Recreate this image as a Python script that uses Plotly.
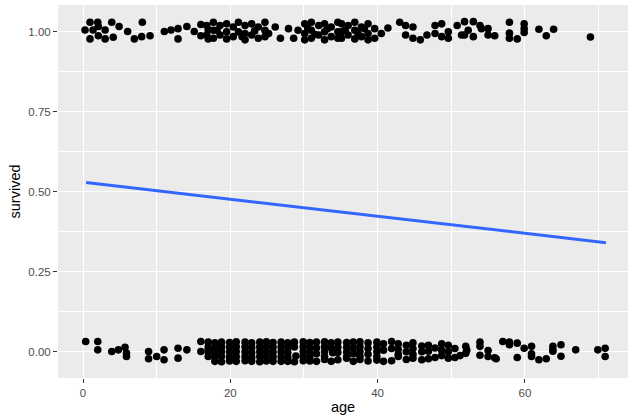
import plotly.graph_objects as go

# Jittered passenger points: age (years) and survived (0/1 with vertical jitter)
survivor_age = [
    0.27, 0.95, 0.95, 1.36, 2.0, 2.08, 2.08, 3.0, 3.0, 3.9, 4.1, 4.9, 6.06, 6.97, 7.96, 8.05, 9.1,
    11.04, 11.95, 12.9, 12.9, 14.1, 15.1, 16.0, 16.0, 17.0, 17.0,
    16.8, 16.8, 17.7, 17.7, 17.7, 18.6, 18.6, 19.5, 19.5, 19.5, 20.4, 20.4, 21.1, 21.1,
    22.0, 22.0, 22.0, 22.9, 22.9, 23.8, 23.8, 24.7, 24.7, 24.7, 26.1, 26.8, 27.9, 28.6, 29.2,
    30.1, 30.1, 30.1, 31.0, 31.0, 31.0, 32.0, 32.0, 32.8, 32.8, 32.8, 33.7, 33.7, 34.6, 34.6, 34.6,
    35.1, 35.1, 35.1, 36.0, 36.0, 36.9, 36.9, 36.9, 37.8, 37.8, 38.7, 38.7, 38.7, 39.6, 39.6,
    40.5, 41.4, 43.0, 43.8, 43.8, 44.8, 44.8, 45.8, 46.7, 47.8, 47.8, 48.7, 48.7, 49.6, 49.6,
    50.8, 51.4, 52.3,
    51.8, 51.8, 53.0, 53.0, 53.9, 54.1, 55.0, 55.0, 55.9, 57.9, 57.9, 57.9, 58.96,
    59.9, 59.9, 59.9, 61.9, 62.9, 63.9, 68.9,
    18.2, 21.6, 23.3, 25.2, 30.5, 31.5, 33.2, 35.6, 37.3, 38.2,
]
survivor_y = [
    1.006, 1.030, 0.978, 1.006, 1.030, 1.017, 0.988, 1.006, 0.978, 1.030, 0.983, 1.017, 1.001, 0.978, 0.985, 1.030, 0.988,
    1.001, 1.006, 1.010, 0.978, 1.017, 1.001, 1.023, 0.988, 1.006, 0.978,
    1.020, 0.990, 1.030, 1.005, 0.980, 1.020, 0.990, 1.025, 1.000, 0.978, 1.015, 0.985, 1.030, 1.000,
    1.020, 0.995, 0.975, 1.025, 0.990, 1.015, 0.980, 1.030, 1.005, 0.985, 1.015, 0.980, 1.010, 0.980, 1.005,
    1.025, 0.995, 0.975, 1.030, 1.005, 0.980, 1.020, 0.990, 1.025, 1.000, 0.975, 1.015, 0.985, 1.030, 1.000, 0.980,
    1.025, 1.000, 0.980, 1.020, 0.990, 1.030, 1.005, 0.978, 1.015, 0.985, 1.025, 0.995, 0.975, 1.010, 0.980,
    0.995, 1.012, 1.030, 1.020, 0.990, 1.015, 0.980, 0.975, 0.990, 1.020, 0.995, 1.025, 0.985, 1.000, 0.980,
    1.020, 0.990, 1.005,
    1.032, 0.990, 1.032, 0.985, 1.020, 1.010, 1.010, 0.990, 0.988, 1.030, 0.996, 0.980, 0.978,
    1.025, 1.010, 0.998, 1.008, 0.988, 1.008, 0.984,
    1.005, 0.985, 1.003, 0.995, 1.012, 0.992, 1.010, 1.005, 0.998, 1.010,
]

victim_age = [
    0.36, 2.0, 2.0, 3.9, 4.8, 5.7, 5.9, 5.9, 8.9, 8.9, 10.0, 11.0, 11.0, 12.9, 12.9, 14.1, 16.0, 16.0, 17.0,
    17.0, 17.0, 17.0, 17.0, 17.9, 17.9, 17.9, 17.9, 17.9, 18.8, 18.8, 18.8, 18.8, 18.8,
    19.9, 19.9, 19.9, 19.9, 19.9, 20.8, 20.8, 20.8, 20.8, 20.8, 22.0, 22.0, 22.0, 22.0, 22.0,
    22.9, 22.9, 22.9, 22.9, 22.9, 24.0, 24.0, 24.0, 24.0, 24.0, 24.9, 24.9, 24.9, 24.9, 24.9,
    25.8, 25.8, 25.8, 25.8, 25.8, 26.9, 26.9, 26.9, 26.9, 26.9, 27.8, 27.8, 27.8, 27.8, 27.8,
    28.7, 28.7, 28.7, 28.9, 29.9, 29.9, 29.9, 29.9, 29.9, 30.8, 30.8, 30.8, 30.8, 30.8,
    31.7, 31.7, 31.7, 31.7, 32.8, 32.8, 32.8, 32.8, 32.8, 33.7, 33.7, 33.7, 33.9, 34.6, 34.6, 34.6, 34.6,
    35.8, 35.8, 35.8, 35.8, 35.8, 36.7, 36.7, 36.7, 36.7, 37.6, 37.6, 37.6, 37.6, 37.6,
    38.7, 38.7, 38.7, 38.7, 39.9, 39.9, 39.9, 39.9, 39.9, 40.8, 40.8, 40.8, 41.9, 41.9, 41.9,
    42.8, 42.8, 42.8, 42.8, 43.9, 43.9, 43.9, 44.8, 44.8, 44.8, 44.8, 46.0, 46.0, 46.0,
    46.9, 46.9, 46.9, 47.8, 47.8, 48.7, 48.7, 48.7, 49.6, 49.6, 49.6, 50.5, 50.5, 51.2, 52.1,
    51.97, 51.97, 53.9, 53.9, 53.9, 55.0, 55.0, 55.9, 56.1, 57.0, 57.9, 57.9, 58.96, 58.96,
    59.9, 60.9, 60.9, 60.9, 61.9, 62.9, 63.8, 63.8, 63.8, 64.9, 64.9, 66.9, 69.9, 70.9, 70.9,
]
victim_y = [
    0.032, 0.032, 0.006, 0.001, 0.006, 0.014, -0.004, -0.015, 0.001, -0.022, -0.015, 0.006, -0.025, 0.011, -0.020, 0.006, 0.032, 0.001, 0.006,
    0.030, 0.015, 0.000, -0.015, -0.030, 0.028, 0.012, -0.002, -0.017, -0.031, 0.030, 0.016, 0.001, -0.014, -0.029,
    0.029, 0.014, -0.001, -0.016, -0.030, 0.031, 0.016, 0.001, -0.015, -0.028, 0.030, 0.015, 0.000, -0.015, -0.030,
    0.028, 0.013, -0.002, -0.017, -0.031, 0.030, 0.015, 0.000, -0.015, -0.029, 0.031, 0.016, 0.001, -0.014, -0.030,
    0.029, 0.014, -0.001, -0.016, -0.030, 0.030, 0.015, 0.000, -0.015, -0.030, 0.028, 0.013, -0.002, -0.017, -0.031,
    0.030, 0.015, -0.013, -0.028, 0.031, 0.016, 0.001, -0.014, -0.029, 0.029, 0.014, -0.001, -0.016, -0.030,
    0.030, 0.012, -0.006, -0.024, 0.031, 0.016, 0.001, -0.015, -0.030, 0.028, 0.012, -0.003, -0.025, 0.030, 0.014, -0.002, -0.020,
    0.029, 0.014, -0.001, -0.016, -0.030, 0.030, 0.012, -0.006, -0.024, 0.031, 0.016, 0.001, -0.014, -0.029,
    0.028, 0.010, -0.008, -0.026, 0.030, 0.015, 0.000, -0.015, -0.030, 0.025, 0.005, -0.028, 0.032, 0.010, -0.015,
    0.025, 0.008, -0.008, -0.024, 0.020, 0.000, -0.020, 0.028, 0.010, -0.008, -0.025, 0.018, 0.000, -0.022,
    0.020, 0.002, -0.018, 0.012, -0.012, 0.025, 0.005, -0.020, 0.020, 0.000, -0.018, 0.010, -0.012, 0.005, -0.005,
    0.017, -0.011, 0.030, 0.017, -0.015, 0.004, -0.019, -0.022, 0.032, 0.030, 0.022, -0.018, 0.027, 0.011,
    -0.015, 0.017, -0.006, -0.025, -0.022, 0.006, 0.017, 0.002, -0.014, 0.022, 0.006, 0.006, -0.015, 0.011, -0.009,
]

# Linear fit of survived on age (endpoints span the age range)
fit_age = [0.42, 71.0]
fit_survived = [0.529, 0.341]

fig = go.Figure()
fig.add_trace(go.Scatter(
    x=survivor_age + victim_age, y=survivor_y + victim_y, mode="markers",
    marker=dict(color="black", size=7.6, line=dict(width=0)), hoverinfo="skip",
))
fig.add_trace(go.Scatter(
    x=fit_age, y=fit_survived, mode="lines",
    line=dict(color="#3366FF", width=3), hoverinfo="skip",
))

tick_font = dict(family="Liberation Sans, Arial, sans-serif", size=11.5, color="#4D4D4D")
title_font = dict(family="Liberation Sans, Arial, sans-serif", size=14.5, color="black")

fig.update_layout(
    width=629, height=416,
    margin=dict(l=58, r=1, t=5, b=38),
    paper_bgcolor="white", plot_bgcolor="#EBEBEB",
    showlegend=False,
    xaxis=dict(
        range=[-3.4, 74.0], tickvals=[0, 20, 40, 60], ticktext=["0", "20", "40", "60"],
        showgrid=True, gridcolor="white", gridwidth=1.1, zeroline=False,
        minor=dict(tickvals=[10, 30, 50, 70], showgrid=True, gridcolor="white", gridwidth=0.55),
        ticks="outside", ticklen=4, tickwidth=1, tickcolor="#333333",
        tickfont=tick_font, showline=False,
        title=dict(text="age", font=title_font, standoff=4),
    ),
    yaxis=dict(
        range=[-0.082, 1.084], tickvals=[0, 0.25, 0.5, 0.75, 1.0],
        ticktext=["0.00", "0.25", "0.50", "0.75", "1.00"],
        showgrid=True, gridcolor="white", gridwidth=1.1, zeroline=False,
        minor=dict(tickvals=[0.125, 0.375, 0.625, 0.875], showgrid=True, gridcolor="white", gridwidth=0.55),
        ticks="outside", ticklen=4, tickwidth=1, tickcolor="#333333",
        tickfont=tick_font, showline=False,
        title=dict(text="survived", font=title_font, standoff=4),
    ),
)

fig.write_html("out.html")
